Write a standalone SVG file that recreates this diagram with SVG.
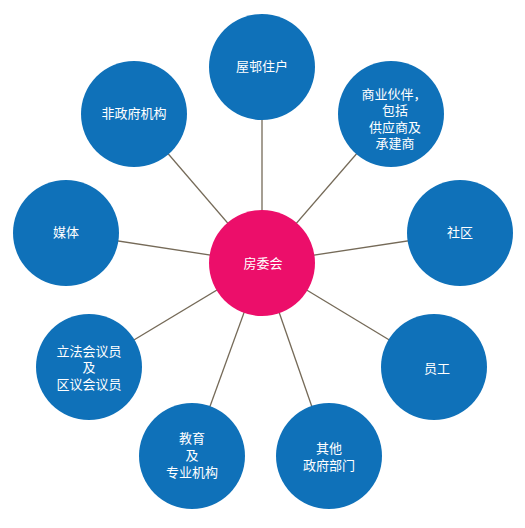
<svg xmlns="http://www.w3.org/2000/svg" width="525" height="528" viewBox="0 0 525 528">
<style>
.n{fill:#0f71b9}
.c{fill:#ec0e6a}
.t{fill:#fff;font-family:"Noto Sans CJK SC","Noto Sans",sans-serif;font-size:13px;text-anchor:middle}
.l{stroke:#756a58;stroke-width:1.3;fill:none}
</style>
<rect width="525" height="528" fill="#fff"/>
<g id="connectors">
<line class="l" x1="262" y1="263" x2="262" y2="67"/>
<line class="l" x1="262" y1="263" x2="134" y2="114"/>
<line class="l" x1="262" y1="263" x2="391" y2="114"/>
<line class="l" x1="262" y1="263" x2="66" y2="233"/>
<line class="l" x1="262" y1="263" x2="460" y2="233"/>
<line class="l" x1="262" y1="263" x2="89" y2="367"/>
<line class="l" x1="262" y1="263" x2="434" y2="367"/>
<line class="l" x1="262" y1="263" x2="192" y2="456"/>
<line class="l" x1="262" y1="263" x2="329" y2="456"/>
</g>
<g id="center"><circle class="c" cx="262" cy="263" r="53"/><text class="t" x="263" y="268">房委会</text></g>
<g id="n1"><circle class="n" cx="262" cy="67" r="53"/><text class="t" x="262" y="71">屋邨住户</text></g>
<g id="n2"><circle class="n" cx="391" cy="114" r="53"/><text class="t"><tspan x="394" y="99">商业伙伴，</tspan><tspan x="395" y="115">包括</tspan><tspan x="395" y="132">供应商及</tspan><tspan x="395" y="148">承建商</tspan></text></g>
<g id="n3"><circle class="n" cx="460" cy="233" r="53"/><text class="t" x="460" y="237">社区</text></g>
<g id="n4"><circle class="n" cx="434" cy="367" r="53"/><text class="t" x="437" y="373">员工</text></g>
<g id="n5"><circle class="n" cx="329" cy="456" r="53"/><text class="t"><tspan x="329" y="453">其他</tspan><tspan x="329" y="470">政府部门</tspan></text></g>
<g id="n6"><circle class="n" cx="192" cy="456" r="53"/><text class="t"><tspan x="192" y="443">教育</tspan><tspan x="192" y="460">及</tspan><tspan x="192" y="477">专业机构</tspan></text></g>
<g id="n7"><circle class="n" cx="89" cy="367" r="53"/><text class="t"><tspan x="89" y="356">立法会议员</tspan><tspan x="89" y="372">及</tspan><tspan x="89" y="389">区议会议员</tspan></text></g>
<g id="n8"><circle class="n" cx="66" cy="233" r="53"/><text class="t" x="66" y="237">媒体</text></g>
<g id="n9"><circle class="n" cx="134" cy="114" r="53"/><text class="t" x="134" y="118">非政府机构</text></g>
</svg>
